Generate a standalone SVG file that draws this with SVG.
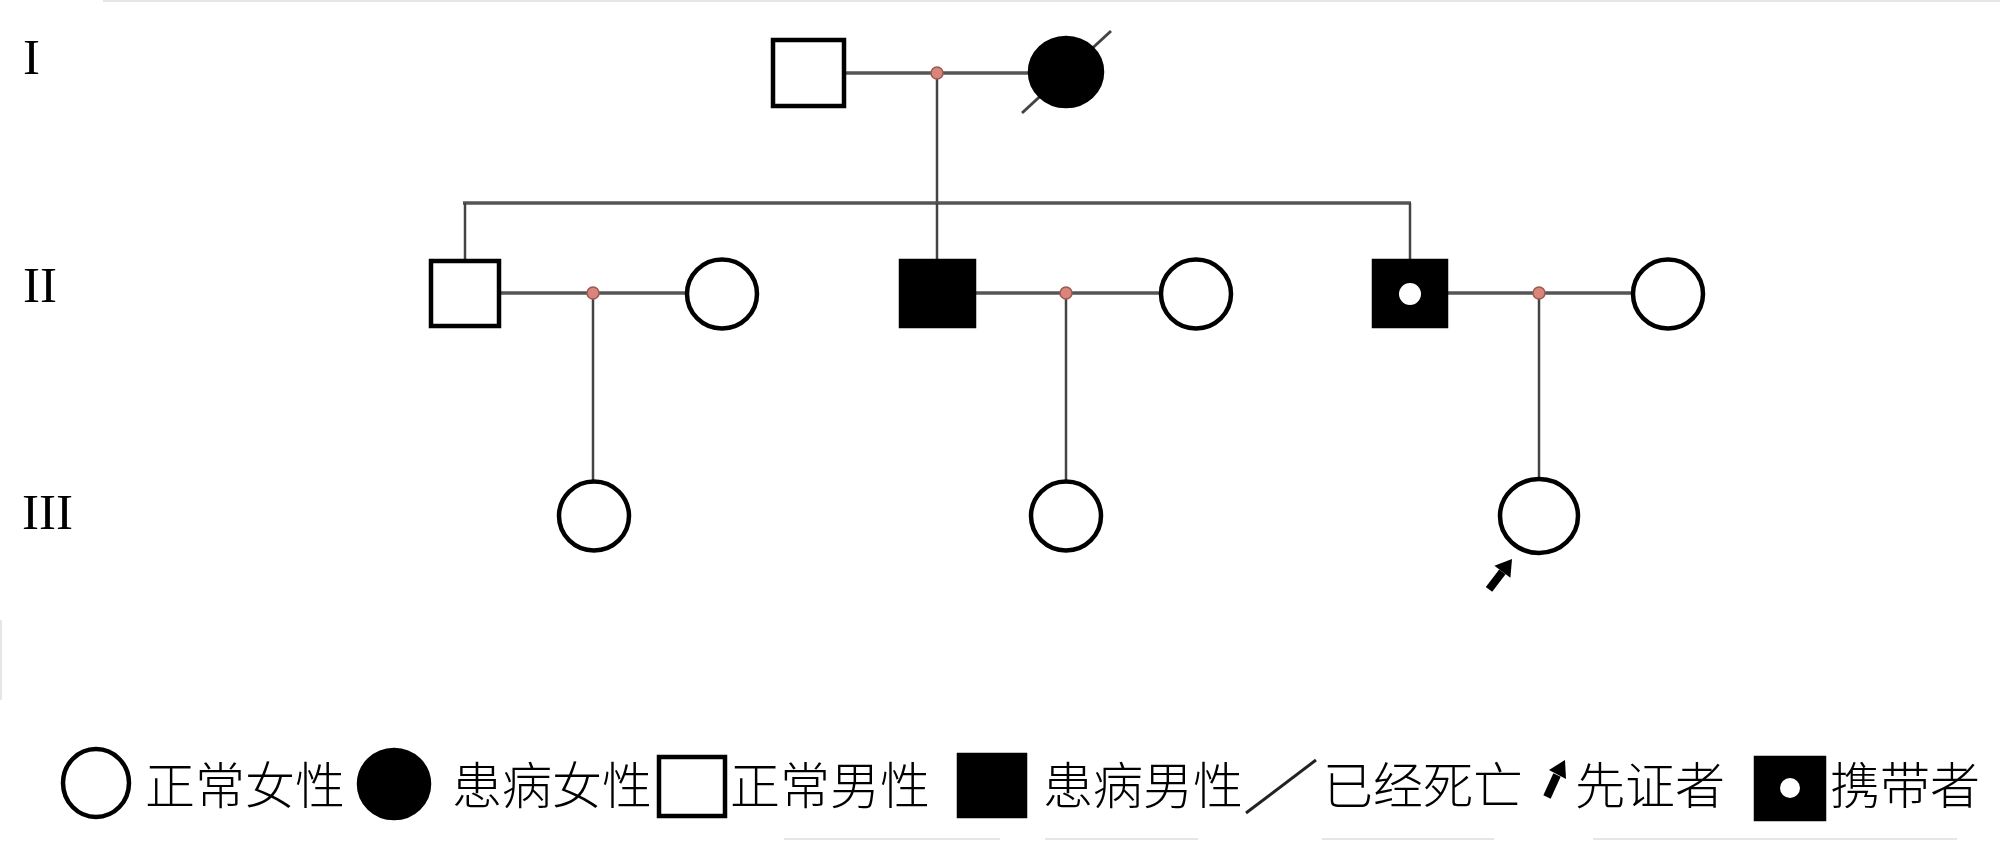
<svg xmlns="http://www.w3.org/2000/svg" width="2000" height="841" viewBox="0 0 2000 841">
<style>
.gen{font-family:"Liberation Serif","Times New Roman",serif;font-size:51px;fill:#000}
.lg{font-family:"Noto Sans CJK SC","Noto Sans CJK JP",sans-serif;font-size:50px;font-weight:300;fill:#000}
.open{fill:#fff;stroke:#000;stroke-width:4.5}
.fill{fill:#000;stroke:#000;stroke-width:4.5}
.mar{stroke:#555;stroke-width:3.5;fill:none}
.desc{stroke:#444;stroke-width:2.5;fill:none}
.knot{fill:#d9857c;stroke:#9a5a52;stroke-width:1.5}
.art{stroke:#e6e6e6;stroke-width:2;fill:none}
</style>
<rect x="0" y="0" width="2000" height="841" fill="#fff"/>
<g id="artifacts">
<line class="art" x1="103" y1="1" x2="2000" y2="1"/>
<line class="art" x1="1" y1="620" x2="1" y2="700"/>
<line class="art" x1="784" y1="839" x2="1000" y2="839"/>
<line class="art" x1="1045" y1="839" x2="1198" y2="839"/>
<line class="art" x1="1322" y1="839" x2="1494" y2="839"/>
<line class="art" x1="1593" y1="839" x2="1957" y2="839"/>
</g>
<g id="generation-labels">
<text class="gen" x="23" y="74">I</text>
<text class="gen" x="23" y="302">II</text>
<text class="gen" x="22" y="529">III</text>
</g>
<g id="connectors">
<line class="mar" x1="846" y1="73" x2="1028" y2="73"/>
<line class="desc" x1="937" y1="73" x2="937" y2="203"/>
<line class="mar" x1="463" y1="203" x2="1411" y2="203"/>
<line class="desc" x1="465" y1="203" x2="465" y2="260"/>
<line class="desc" x1="937" y1="203" x2="937" y2="260"/>
<line class="desc" x1="1410" y1="203" x2="1410" y2="260"/>
<line class="mar" x1="501" y1="293" x2="686" y2="293"/>
<line class="mar" x1="975" y1="293" x2="1159" y2="293"/>
<line class="mar" x1="1447" y1="293" x2="1631" y2="293"/>
<line class="desc" x1="593" y1="293" x2="593" y2="482"/>
<line class="desc" x1="1066" y1="293" x2="1066" y2="482"/>
<line class="desc" x1="1539" y1="293" x2="1539" y2="478"/>
<circle class="knot" cx="937" cy="73" r="6"/>
<circle class="knot" cx="593" cy="293" r="6"/>
<circle class="knot" cx="1066" cy="293" r="6"/>
<circle class="knot" cx="1539" cy="293" r="6"/>
</g>
<g id="I-1"><rect class="open" x="773" y="40" width="71" height="66"/></g>
<g id="I-2">
<line x1="1022" y1="113" x2="1111" y2="31" stroke="#444" stroke-width="3"/>
<ellipse class="fill" cx="1066" cy="72" rx="36" ry="34"/>
</g>
<g id="II-1"><rect class="open" x="431" y="261" width="68" height="65"/></g>
<g id="II-2"><ellipse class="open" cx="722" cy="294" rx="35" ry="34.5"/></g>
<g id="II-3"><rect class="fill" x="901" y="261" width="73" height="65"/></g>
<g id="II-4"><ellipse class="open" cx="1196" cy="294" rx="35" ry="34.5"/></g>
<g id="II-5">
<rect class="fill" x="1374" y="261" width="72" height="65"/>
<ellipse cx="1410" cy="294" rx="11" ry="11" fill="#fff"/>
</g>
<g id="II-6"><ellipse class="open" cx="1668" cy="294" rx="35" ry="34.5"/></g>
<g id="III-1"><ellipse class="open" cx="594" cy="516" rx="35" ry="34.5"/></g>
<g id="III-2"><ellipse class="open" cx="1066" cy="516" rx="35" ry="34.5"/></g>
<g id="III-3"><ellipse class="open" cx="1539" cy="516" rx="39" ry="37"/></g>
<g id="proband-arrow">
<line x1="1502.4" y1="571.8" x2="1489" y2="589.4" stroke="#000" stroke-width="8"/>
<polygon points="1512,559 1510.4,577.8 1494.4,565.8" fill="#000"/>
</g>
<g id="legend">
<ellipse class="open" cx="96" cy="783" rx="33" ry="34" stroke-width="3.5"/>
<text class="lg" x="145" y="804">正常女性</text>
<ellipse class="fill" cx="394" cy="784" rx="35" ry="34"/>
<text class="lg" x="452" y="804">患病女性</text>
<rect class="open" x="659" y="757" width="66" height="59"/>
<text class="lg" x="730" y="804">正常男性</text>
<rect class="fill" x="959" y="755" width="66" height="61"/>
<text class="lg" x="1043" y="804">患病男性</text>
<line x1="1246" y1="813" x2="1316" y2="760" stroke="#222" stroke-width="3"/>
<text class="lg" x="1323" y="804">已经死亡</text>
<line x1="1557" y1="775" x2="1547" y2="797" stroke="#000" stroke-width="8"/>
<polygon points="1565,760 1566,779 1549,770" fill="#000"/>
<text class="lg" x="1575" y="804">先证者</text>
<rect class="fill" x="1756" y="758" width="68" height="61"/>
<ellipse cx="1790" cy="788" rx="10" ry="10" fill="#fff"/>
<text class="lg" x="1830" y="804">携带者</text>
</g>
</svg>
